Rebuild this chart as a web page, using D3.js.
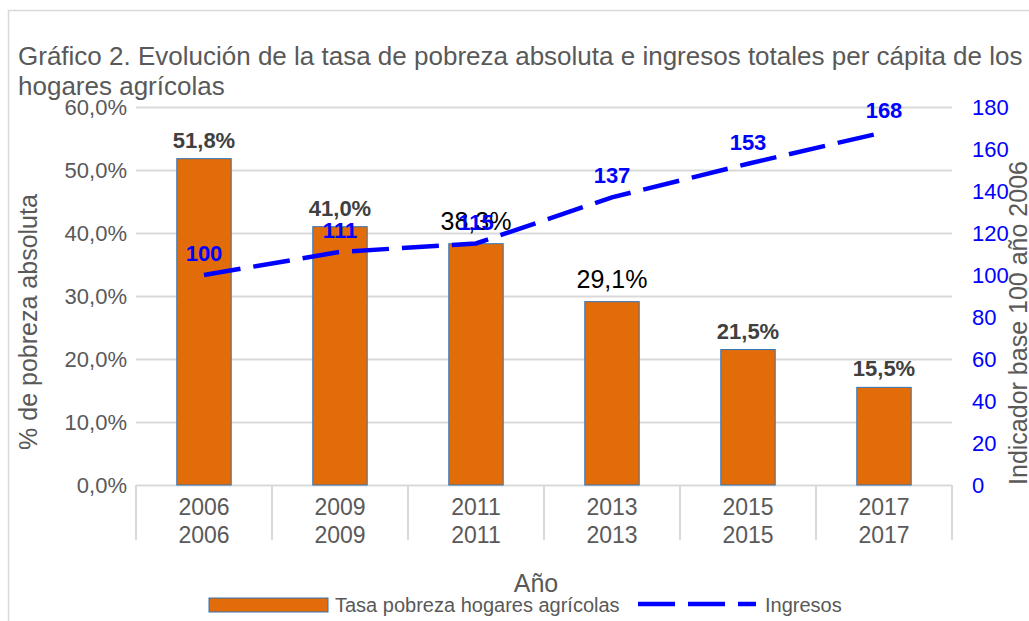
<!DOCTYPE html>
<html>
<head>
<meta charset="utf-8">
<script src="https://cdn.jsdelivr.net/npm/d3@7"></script>
<style>
  body { margin: 0; background: #fff; }
  svg { display: block; font-family: "Liberation Sans", Arial, sans-serif; }
</style>
</head>
<body>
<div id="chart"></div>
<script>
// data
var years = ['2006', '2009', '2011', '2013', '2015', '2017'];
var pobreza = [0.518, 0.410, 0.383, 0.291, 0.215, 0.155];
var pobrezaBold = [true, true, false, false, true, true];
var ingresos = [100, 111, 115, 137, 153, 168];
var leftTicks = [0, 0.1, 0.2, 0.3, 0.4, 0.5, 0.6];
var rightTicks = [0, 20, 40, 60, 80, 100, 120, 140, 160, 180];

var W = 1029, H = 621;
var plot = { left: 136, right: 952, top: 107, bottom: 485 };
var gray = '#595959', grid = '#d9d9d9', orange = '#e36c0a', blue = '#0000ff';

var svg = d3.select('#chart').append('svg')
    .attr('width', W)
    .attr('height', H);

// chart frame
svg.append('path')
    .attr('d', 'M8.5,' + H + 'V10.5H' + W)
    .attr('fill', 'none')
    .attr('stroke', grid)
    .attr('stroke-width', 1.5);

var x = d3.scaleBand().domain(years).range([plot.left, plot.right])
    .paddingInner(0.6).paddingOuter(0.3);
var yL = d3.scaleLinear().domain([0, 0.6]).range([plot.bottom, plot.top]);
var yR = d3.scaleLinear().domain([0, 180]).range([plot.bottom, plot.top]);

var pct = function (d) {
    return d3.format('.1f')(d * 100).replace('.', ',') + '%';
};

// left axis + gridlines
var gL = svg.append('g')
    .attr('transform', 'translate(' + plot.left + ',0)')
    .call(d3.axisLeft(yL).tickValues(leftTicks).tickFormat(pct)
        .tickSize(-(plot.right - plot.left)).tickPadding(9));
gL.select('.domain').remove();
gL.selectAll('line').attr('stroke', grid).attr('stroke-width', 2);
gL.selectAll('text').attr('fill', gray).attr('font-size', 22)
    .attr('font-family', '"Liberation Sans", Arial, sans-serif');

// right axis
var gR = svg.append('g')
    .attr('transform', 'translate(' + plot.right + ',0)')
    .call(d3.axisRight(yR).tickValues(rightTicks).tickSize(0).tickPadding(20));
gR.select('.domain').remove();
gR.selectAll('text').attr('fill', blue).attr('font-size', 22)
    .attr('font-family', '"Liberation Sans", Arial, sans-serif');

// category dividers
var step = x.step();
svg.append('g').selectAll('line')
    .data(d3.range(years.length + 1))
    .enter().append('line')
    .attr('x1', function (i) { return plot.left + i * step; })
    .attr('x2', function (i) { return plot.left + i * step; })
    .attr('y1', plot.bottom)
    .attr('y2', 540)
    .attr('stroke', grid)
    .attr('stroke-width', 2);

// two level category labels
[515, 543].forEach(function (yy) {
    svg.append('g').selectAll('text')
        .data(years)
        .enter().append('text')
        .attr('x', function (d) { return x(d) + x.bandwidth() / 2; })
        .attr('y', yy)
        .attr('text-anchor', 'middle')
        .attr('fill', gray)
        .attr('font-size', 23)
        .text(function (d) { return d; });
});

// bars
svg.append('g').selectAll('rect')
    .data(pobreza)
    .enter().append('rect')
    .attr('x', function (d, i) { return x(years[i]); })
    .attr('y', function (d) { return yL(d); })
    .attr('width', x.bandwidth())
    .attr('height', function (d) { return plot.bottom - yL(d); })
    .attr('fill', orange)
    .attr('stroke', '#2e75b6')
    .attr('stroke-width', 1);

// bar labels
svg.append('g').selectAll('text')
    .data(pobreza)
    .enter().append('text')
    .attr('x', function (d, i) { return x(years[i]) + x.bandwidth() / 2; })
    .attr('y', function (d, i) { return yL(d) - (pobrezaBold[i] ? 11 : 14); })
    .attr('text-anchor', 'middle')
    .attr('font-size', function (d, i) { return pobrezaBold[i] ? 22 : 25; })
    .attr('font-weight', function (d, i) { return pobrezaBold[i] ? 'bold' : 'normal'; })
    .attr('fill', function (d, i) { return pobrezaBold[i] ? '#404040' : '#000'; })
    .text(pct);

// ingresos line
var line = d3.line()
    .x(function (d, i) { return x(years[i]) + x.bandwidth() / 2; })
    .y(function (d) { return yR(d); });
svg.append('path')
    .datum(ingresos)
    .attr('d', line)
    .attr('fill', 'none')
    .attr('stroke', blue)
    .attr('stroke-width', 4.5)
    .attr('stroke-dasharray', '37,13');

svg.append('g').selectAll('text')
    .data(ingresos)
    .enter().append('text')
    .attr('x', function (d, i) { return x(years[i]) + x.bandwidth() / 2; })
    .attr('y', function (d) { return yR(d) - 14; })
    .attr('text-anchor', 'middle')
    .attr('font-size', 22)
    .attr('font-weight', 'bold')
    .attr('fill', blue)
    .text(function (d) { return d; });

// title
var title = svg.append('text')
    .attr('x', 18)
    .attr('fill', gray)
    .attr('font-size', 26);
title.append('tspan').attr('x', 18).attr('y', 65)
    .text('Gráfico 2. Evolución de la tasa de pobreza absoluta e ingresos totales per cápita de los');
title.append('tspan').attr('x', 18).attr('y', 95)
    .text('hogares agrícolas');

// axis titles
svg.append('text')
    .attr('transform', 'translate(37,322) rotate(-90)')
    .attr('text-anchor', 'middle')
    .attr('fill', gray)
    .attr('font-size', 25)
    .text('% de pobreza absoluta');
svg.append('text')
    .attr('transform', 'translate(1027,323) rotate(-90)')
    .attr('text-anchor', 'middle')
    .attr('fill', gray)
    .attr('font-size', 25)
    .text('Indicador base 100 año 2006');
svg.append('text')
    .attr('x', 536)
    .attr('y', 592)
    .attr('text-anchor', 'middle')
    .attr('fill', gray)
    .attr('font-size', 25)
    .text('Año');

// legend
var legend = svg.append('g');
legend.append('rect')
    .attr('x', 209).attr('y', 598)
    .attr('width', 119).attr('height', 14)
    .attr('fill', orange)
    .attr('stroke', '#2e75b6')
    .attr('stroke-width', 1);
legend.append('text')
    .attr('x', 335).attr('y', 612)
    .attr('fill', gray)
    .attr('font-size', 20)
    .text('Tasa pobreza hogares agrícolas');
legend.append('line')
    .attr('x1', 638).attr('x2', 756)
    .attr('y1', 604).attr('y2', 604)
    .attr('stroke', blue)
    .attr('stroke-width', 4.5)
    .attr('stroke-dasharray', '37,13');
legend.append('text')
    .attr('x', 765).attr('y', 612)
    .attr('fill', gray)
    .attr('font-size', 20)
    .text('Ingresos');
</script>
</body>
</html>
